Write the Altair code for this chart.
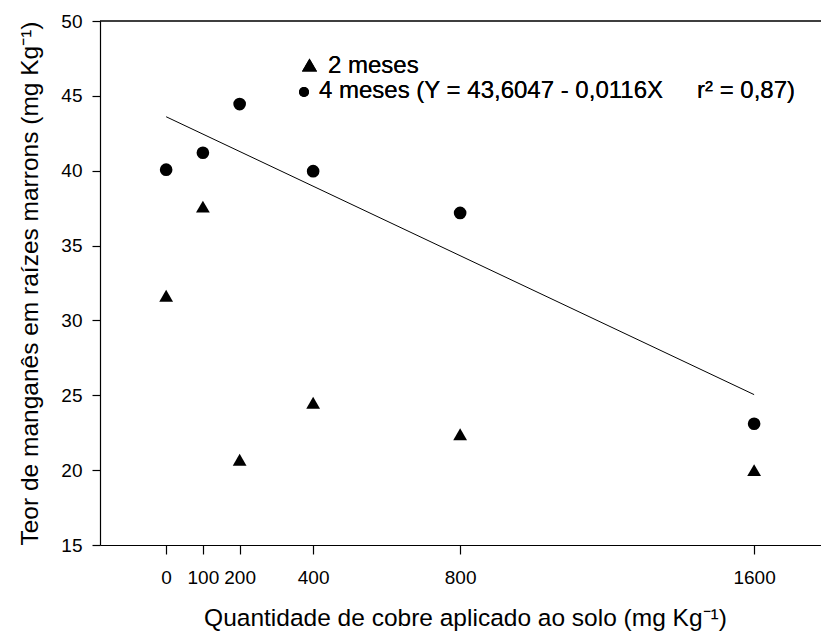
import altair as alt
import pandas as pd

# ---- data ----
doses = [0, 100, 200, 400, 800, 1600]
mn_2meses = [31.65, 37.6, 20.7, 24.5, 22.4, 20.0]
mn_4meses = [40.07, 41.2, 44.45, 39.97, 37.18, 23.1]
# regression line for 4 meses: Y = 43,6047 - 0,0116X
reg_x = [0, 1600]
reg_y = [43.6047, 25.0447]
x_ticks = [0, 100, 200, 400, 800, 1600]
y_ticks = [15, 20, 25, 30, 35, 40, 45, 50]

FONT = "Liberation Sans"
W, H = 721, 524

df2 = pd.DataFrame({"dose": doses, "mn": mn_2meses})
df4 = pd.DataFrame({"dose": doses, "mn": mn_4meses})
dfr = pd.DataFrame({"dose": reg_x, "mn": reg_y})

xs = alt.Scale(domain=[-180, 1782], nice=False, zero=False)
ys = alt.Scale(domain=[15, 50], nice=False, zero=False)

x_enc = alt.X("dose:Q", scale=xs,
              title="Quantidade de cobre aplicado ao solo (mg Kg⁻¹)",
              axis=alt.Axis(values=x_ticks, format="d", grid=False, tickSize=9, labelPadding=29,
                            labelBaseline="alphabetic", labelFlush=False,
                            titleBaseline="alphabetic", titleY=80, titleX=365))
y_enc = alt.Y("mn:Q", scale=ys,
              title="Teor de manganês em raízes marrons (mg Kg⁻¹)",
              axis=alt.Axis(values=y_ticks, format="d", grid=False, tickSize=8, labelPadding=10,
                            titleBaseline="alphabetic", titleX=-63))

pts2 = alt.Chart(df2).mark_point(shape="triangle-up", filled=True, color="black",
                                 size=190, opacity=1).encode(x=x_enc, y=y_enc)
pts4 = alt.Chart(df4).mark_point(shape="circle", filled=True, color="black",
                                 size=160, opacity=1).encode(x="dose:Q", y="mn:Q")
reg = alt.Chart(dfr).mark_line(color="black", strokeWidth=1).encode(x="dose:Q", y="mn:Q")

top_line = alt.Chart(dfr).mark_rule(color="black", strokeWidth=1.2).encode(
    x=alt.value(0), x2=alt.value(W), y=alt.value(0))

leg_tri = alt.Chart(dfr).mark_point(shape="triangle-up", filled=True, color="black",
                                    size=230, opacity=1).encode(
    x=alt.value(209.5), y=alt.value(44))
leg_cir = alt.Chart(dfr).mark_point(shape="circle", filled=True, color="black",
                                    size=100, opacity=1).encode(
    x=alt.value(204), y=alt.value(71))
txt_style = dict(font=FONT, fontSize=24, color="black", align="left", baseline="alphabetic")
leg_t1 = alt.Chart(dfr).mark_text(text="2 meses", **txt_style).encode(
    x=alt.value(228), y=alt.value(52))
leg_t2 = alt.Chart(dfr).mark_text(text="4 meses (Y = 43,6047 - 0,0116X", **txt_style).encode(
    x=alt.value(219), y=alt.value(77))
leg_t3 = alt.Chart(dfr).mark_text(text="r² = 0,87)", **txt_style).encode(
    x=alt.value(597), y=alt.value(77))

chart = alt.layer(pts2, pts4, reg, top_line, leg_tri, leg_cir, leg_t1, leg_t2, leg_t3).properties(
    width=W, height=H,
    autosize=alt.AutoSizeParams(type="none"),
    padding={"left": 100, "top": 21, "right": 0, "bottom": 92},
    background="white",
).configure_view(stroke=None).configure_axis(
    domainColor="black", domainWidth=1.2, tickColor="black", tickWidth=1.2,
    labelFont=FONT, labelFontSize=19, labelColor="black",
    titleFont=FONT, titleFontSize=24.5, titleColor="black", titleFontWeight="normal",
)

chart.save("out.html", embed_options={"renderer": "svg", "actions": False})
